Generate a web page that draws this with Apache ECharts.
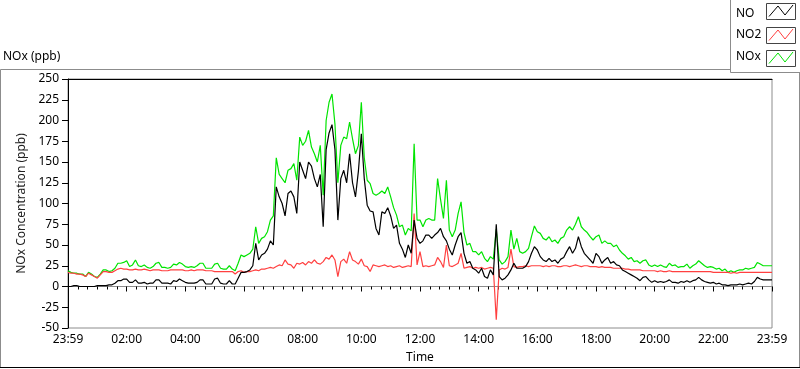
<!DOCTYPE html>
<html><head><meta charset="utf-8">
<script src="https://cdn.jsdelivr.net/npm/echarts@6/dist/echarts.min.js"></script>
<style>html,body{margin:0;padding:0;background:#fff}#c{width:800px;height:369px}</style>
</head><body><div id="c"></div>
<script>
// sample spacing (minutes after 23:59)
const stepMinutes = 6;
const xTickLabels = ['23:59','02:00','04:00','06:00','08:00','10:00','12:00','14:00','16:00','18:00','20:00','22:00','23:59'];
const seriesNames = ['NO','NO2','NOx'];

const noValues = [
0,0,1,1,0,0,0,0,0,0,
1,1,1,1,2,2,4,7,7,9,
9,5,5,8,4,4,5,3,4,4,
8,8,4,4,4,3,7,6,9,7,
5,4,4,4,5,8,8,3,3,3,
9,10,4,3,3,7,3,3,10,17,
17,18,20,25,52,32,38,40,45,55,
50,120,108,100,85,112,115,108,88,150,
140,130,150,145,130,120,135,72,165,185,
195,165,80,130,140,125,160,125,108,139,
184,130,98,91,90,70,62,90,88,95,
85,70,74,52,45,35,50,40,80,58,
52,55,62,62,58,62,65,70,60,55,
45,38,50,60,65,40,28,30,22,20,
16,22,12,10,20,14,75,12,8,10,
14,20,28,22,22,22,24,30,40,48,
44,36,32,30,34,30,32,28,33,35,
42,48,40,46,60,48,40,36,32,28,
40,36,28,32,35,28,30,26,25,20,
18,16,14,12,10,7,11,12,8,5,
7,5,6,5,6,8,5,5,4,6,
5,7,5,7,8,11,8,6,5,4,
5,3,4,2,2,1,2,2,2,3,
2,3,4,3,6,11,9,8,8,8,8
];

const no2Values = [
17,16,16,15,15,14,12,16,14,12,
10,14,18,18,17,17,19,21,22,21,
21,20,20,21,20,20,21,20,19,20,
20,20,19,19,19,20,20,20,20,20,
19,19,20,19,20,20,20,19,19,19,
18,18,18,18,18,18,18,15,18,19,
17,18,18,19,20,19,21,21,22,23,
22,24,26,25,32,27,26,22,28,27,
29,26,30,28,32,28,27,30,35,33,
38,32,12,30,33,28,42,32,30,27,
33,25,24,18,26,25,24,25,26,24,
25,23,24,25,23,24,25,24,88,26,
42,24,25,24,25,26,35,30,23,50,
25,24,26,28,40,22,23,24,22,23,
22,23,21,22,23,22,-40,20,22,21,
23,45,24,23,24,24,25,24,25,25,
25,25,24,25,24,25,25,24,24,25,
25,24,25,26,25,24,25,25,24,24,
24,23,24,23,23,23,22,22,22,22,
21,21,20,20,20,20,19,19,19,19,
19,18,19,18,18,19,18,18,18,18,
18,18,18,18,18,18,18,18,18,18,
17,17,17,17,17,17,16,17,16,17,
17,17,17,17,17,17,17,17,17,17,17
];

const noxValues = [
19,17,16,16,15,15,12,17,15,12,
11,15,20,20,18,19,22,28,28,29,
31,24,26,32,25,24,26,23,22,24,
28,29,23,23,22,23,27,26,29,27,
24,23,24,23,25,28,28,22,22,22,
27,28,22,21,21,25,21,19,28,38,
36,38,40,45,72,52,58,60,66,80,
85,155,135,130,125,140,142,148,128,180,
170,175,188,168,160,150,170,110,200,222,
232,196,125,170,180,178,198,178,160,170,
222,155,128,124,112,110,112,115,112,120,
108,95,86,72,74,62,70,67,172,80,
80,72,80,82,80,80,130,105,82,128,
68,60,68,88,102,65,50,52,42,42,
38,42,34,30,36,33,69,32,27,30,
36,68,45,58,42,40,42,46,60,73,
66,64,58,56,60,54,56,52,58,60,
68,72,68,75,84,72,68,65,60,56,
60,62,52,55,52,52,48,50,44,40,
37,33,35,30,31,28,31,32,26,24,
26,24,26,24,23,28,25,26,23,24,
24,27,22,25,27,31,28,25,23,24,
23,21,22,19,21,17,19,17,19,20,
20,22,21,22,23,29,27,25,25,25,25
];

const colors = {NO:'#000000', NO2:'#ff4040', NOx:'#00e400'};
const FONT = 'Noto Sans';

function pairs(vals){ return vals.map((v,i)=>[i*stepMinutes, v]); }

const chart = echarts.init(document.getElementById('c'));

function zig(dx, dy){
  return [[769+dx,16.5+dy],[778+dx,6+dy],[785+dx,15+dy],[793+dx,5+dy]];
}

const option = {
  animation: false,
  backgroundColor: '#ffffff',
  title: {
    text: 'NOx (ppb)', left: 3, top: 51, padding: 0,
    textStyle: {fontSize: 12, fontWeight: 'normal', color: '#000', fontFamily: FONT}
  },
  legend: {
    data: seriesNames, orient: 'vertical', left: 731, top: 6, padding: 0,
    icon: 'none', itemWidth: 0, itemHeight: 15, itemGap: 8, selectedMode: false,
    textStyle: {fontSize: 12, color: '#000', fontFamily: FONT}
  },
  grid: {left: 68, top: 79, right: 28, bottom: 39, show: true, borderColor: '#8c8c8c', borderWidth: 1, backgroundColor: '#fff'},
  xAxis: [{
    type: 'value', min: 0, max: 1440, interval: 120, position: 'bottom',
    name: 'Time', nameLocation: 'middle', nameGap: 24,
    nameTextStyle: {fontSize: 12, color: '#000', fontFamily: FONT},
    axisLine: {show: true, lineStyle: {color: '#8c8c8c'}},
    axisTick: {show: true, length: 5, lineStyle: {color: '#000'}},
    minorTick: {show: true, splitNumber: 6, length: 3, lineStyle: {color: '#000'}},
    axisLabel: {margin: 6, fontSize: 12, color: '#000', fontFamily: FONT,
      showMinLabel: true, showMaxLabel: true,
      formatter: v => xTickLabels[Math.round(v / 120)]},
    splitLine: {show: false}, minorSplitLine: {show: false}
  }, {
    type: 'value', min: 0, max: 1440, position: 'top',
    axisLine: {show: true, lineStyle: {color: '#000'}},
    axisTick: {show: false}, axisLabel: {show: false}, splitLine: {show: false}
  }],
  yAxis: [{
    type: 'value', min: -50, max: 250, interval: 25,
    name: 'NOx Concentration (ppb)', nameLocation: 'middle', nameGap: 24, nameRotate: 90,
    nameTextStyle: {fontSize: 12, color: '#222', fontFamily: FONT},
    axisLine: {show: true, lineStyle: {color: '#000'}},
    axisTick: {show: true, length: 6, lineStyle: {color: '#000'}},
    axisLabel: {margin: 9, fontSize: 12, color: '#000', fontFamily: FONT},
    splitLine: {show: false}
  }],
  series: [
    {name: 'NO', type: 'line', data: pairs(noValues), xAxisIndex: 0, showSymbol: false, symbol: 'none',
     lineStyle: {width: 1.2, color: colors.NO}, itemStyle: {color: colors.NO}, z: 5},
    {name: 'NO2', type: 'line', data: pairs(no2Values), xAxisIndex: 0, showSymbol: false, symbol: 'none',
     lineStyle: {width: 1.2, color: colors.NO2}, itemStyle: {color: colors.NO2}, z: 4},
    {name: 'NOx', type: 'line', data: pairs(noxValues), xAxisIndex: 0, showSymbol: false, symbol: 'none',
     lineStyle: {width: 1.2, color: colors.NOx}, itemStyle: {color: colors.NOx}, z: 3}
  ],
  graphic: [
    {type: 'rect', z: 0, silent: true, shape: {x: 0.5, y: 69.5, width: 799, height: 298}, style: {fill: 'none', stroke: '#8c8c8c', lineWidth: 1}},
    {type: 'line', z: 0, silent: true, shape: {x1: 0, y1: 367.5, x2: 800, y2: 367.5}, style: {stroke: '#000', lineWidth: 1}},
    {type: 'rect', z: 1, silent: true, shape: {x: 730.5, y: -1, width: 70, height: 73.5}, style: {fill: '#fff', stroke: '#8c8c8c', lineWidth: 1}},
    {type: 'rect', z: 1, silent: true, shape: {x: 766.5, y: 3.5, width: 29, height: 16}, style: {fill: '#fff', stroke: '#444', lineWidth: 1}},
    {type: 'rect', z: 1, silent: true, shape: {x: 766.5, y: 27.5, width: 29, height: 16}, style: {fill: '#fff', stroke: '#444', lineWidth: 1}},
    {type: 'rect', z: 1, silent: true, shape: {x: 766.5, y: 50.5, width: 29, height: 16}, style: {fill: '#fff', stroke: '#444', lineWidth: 1}},
    {type: 'polyline', z: 2, silent: true, shape: {points: zig(0, 0)}, style: {fill: 'none', stroke: colors.NO, lineWidth: 1}},
    {type: 'polyline', z: 2, silent: true, shape: {points: zig(0, 24)}, style: {fill: 'none', stroke: colors.NO2, lineWidth: 1}},
    {type: 'polyline', z: 2, silent: true, shape: {points: zig(0, 47)}, style: {fill: 'none', stroke: colors.NOx, lineWidth: 1}}
  ]
};
chart.setOption(option);
</script>
</body></html>
